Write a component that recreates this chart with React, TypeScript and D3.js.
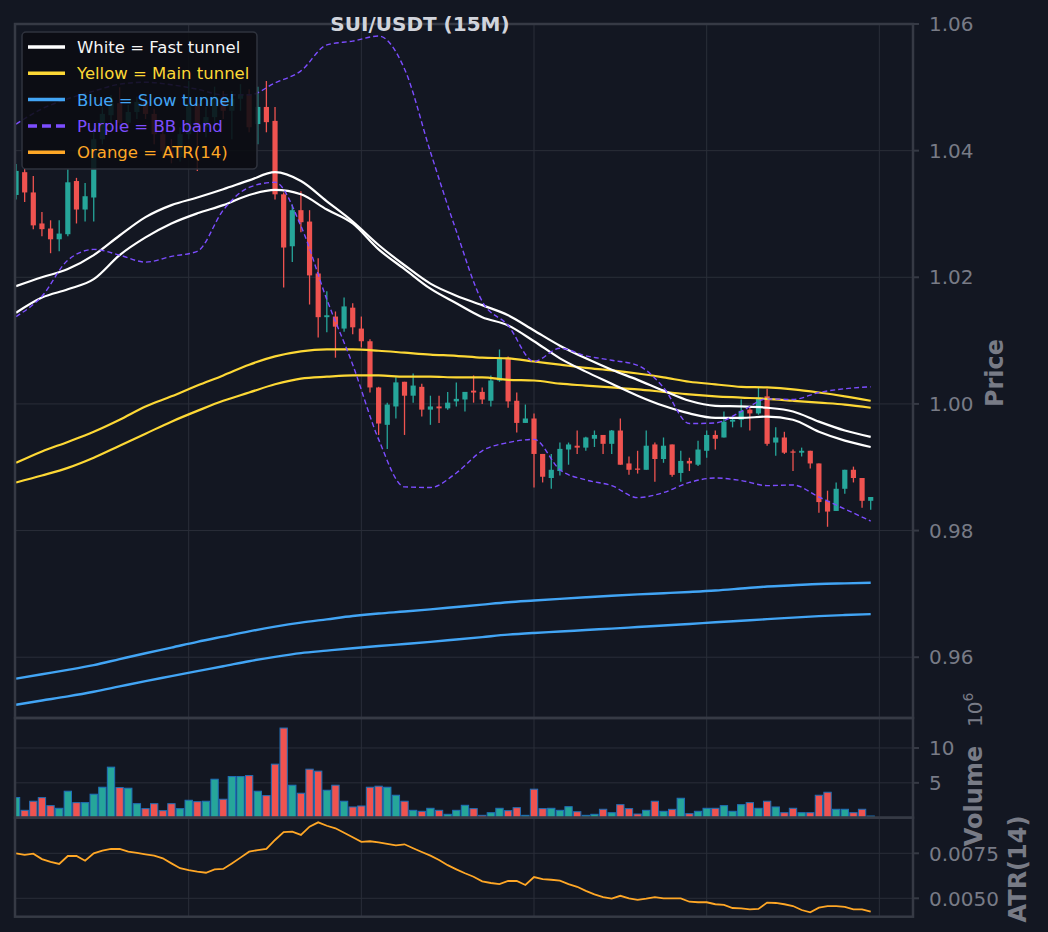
import * as d3 from 'd3'

// SUI/USDT 15m candles (100 bars)
const openP = [
  1.0330, 1.0366, 1.0334, 1.0285, 1.0277, 1.0260, 1.0268, 1.0352, 1.0307, 1.0326,
  1.0418, 1.0456, 1.0475, 1.0444, 1.0461, 1.0477, 1.0458, 1.0426, 1.0399, 1.0390,
  1.0426, 1.0474, 1.0437, 1.0453, 1.0485, 1.0463, 1.0482, 1.0489, 1.0442, 1.0469,
  1.0447, 1.0331, 1.0249, 1.0306, 1.0288, 1.0206, 1.0137, 1.0138, 1.0119, 1.0152,
  1.0119, 1.0099, 1.0026, 0.9967, 0.9996, 1.0035, 1.0013, 1.0027, 0.9991, 0.9996,
  0.9993, 1.0004, 1.0007, 1.0021, 1.0019, 1.0005, 1.0037, 1.0073, 1.0005, 0.9970,
  0.9977, 0.9921, 0.9883, 0.9894, 0.9928, 0.9934, 0.9931, 0.9945, 0.9951, 0.9937,
  0.9958, 0.9906, 0.9898, 0.9896, 0.9936, 0.9913, 0.9936, 0.9891, 0.9910, 0.9904,
  0.9926, 0.9951, 0.9947, 0.9972, 0.9975, 0.9991, 0.9985, 1.0012, 0.9939, 0.9947,
  0.9925, 0.9923, 0.9926, 0.9906, 0.9847, 0.9831, 0.9866, 0.9896, 0.9883, 0.9847,
]
const highP = [
  1.0379, 1.0371, 1.0360, 1.0303, 1.0290, 1.0290, 1.0371, 1.0357, 1.0349, 1.0434,
  1.0469, 1.0488, 1.0500, 1.0472, 1.0485, 1.0485, 1.0466, 1.0442, 1.0418, 1.0437,
  1.0510, 1.0485, 1.0469, 1.0501, 1.0494, 1.0494, 1.0505, 1.0497, 1.0501, 1.0510,
  1.0469, 1.0334, 1.0315, 1.0336, 1.0306, 1.0230, 1.0178, 1.0146, 1.0168, 1.0159,
  1.0138, 1.0102, 1.0027, 1.0002, 1.0042, 1.0035, 1.0048, 1.0032, 1.0013, 1.0013,
  1.0019, 1.0034, 1.0019, 1.0045, 1.0026, 1.0045, 1.0086, 1.0075, 1.0018, 0.9999,
  0.9985, 0.9921, 0.9921, 0.9939, 0.9939, 0.9958, 0.9948, 0.9958, 0.9951, 0.9959,
  0.9977, 0.9917, 0.9926, 0.9958, 0.9939, 0.9947, 0.9936, 0.9926, 0.9915, 0.9942,
  0.9958, 0.9958, 0.9988, 0.9980, 1.0007, 0.9994, 1.0026, 1.0024, 0.9963, 0.9956,
  0.9928, 0.9931, 0.9926, 0.9906, 0.9863, 0.9876, 0.9896, 0.9901, 0.9883, 0.9853,
]
const lowP = [
  1.0323, 1.0319, 1.0276, 1.0265, 1.0238, 1.0241, 1.0265, 1.0285, 1.0288, 1.0288,
  1.0410, 1.0434, 1.0434, 1.0436, 1.0450, 1.0450, 1.0410, 1.0390, 1.0380, 1.0383,
  1.0418, 1.0368, 1.0421, 1.0442, 1.0450, 1.0418, 1.0463, 1.0429, 1.0410, 1.0429,
  1.0323, 1.0184, 1.0224, 1.0271, 1.0157, 1.0105, 1.0113, 1.0073, 1.0114, 1.0110,
  1.0089, 1.0018, 0.9951, 0.9929, 0.9977, 0.9951, 1.0002, 0.9980, 0.9967, 0.9970,
  0.9991, 0.9996, 0.9988, 1.0002, 1.0000, 0.9996, 1.0035, 0.9994, 0.9955, 0.9970,
  0.9868, 0.9876, 0.9866, 0.9887, 0.9904, 0.9921, 0.9926, 0.9932, 0.9921, 0.9921,
  0.9904, 0.9888, 0.9890, 0.9896, 0.9877, 0.9907, 0.9885, 0.9877, 0.9894, 0.9902,
  0.9915, 0.9928, 0.9947, 0.9963, 0.9963, 0.9958, 0.9983, 0.9934, 0.9918, 0.9921,
  0.9894, 0.9917, 0.9898, 0.9828, 0.9806, 0.9831, 0.9858, 0.9876, 0.9836, 0.9833,
]
const closeP = [
  1.0368, 1.0334, 1.0282, 1.0276, 1.0260, 1.0269, 1.0350, 1.0307, 1.0328, 1.0418,
  1.0458, 1.0475, 1.0444, 1.0461, 1.0477, 1.0458, 1.0426, 1.0399, 1.0390, 1.0426,
  1.0474, 1.0437, 1.0453, 1.0485, 1.0463, 1.0482, 1.0489, 1.0437, 1.0469, 1.0445,
  1.0331, 1.0247, 1.0306, 1.0287, 1.0203, 1.0137, 1.0140, 1.0122, 1.0154, 1.0121,
  1.0099, 1.0026, 0.9969, 0.9999, 1.0034, 1.0013, 1.0029, 0.9991, 0.9996, 0.9993,
  1.0002, 1.0008, 1.0019, 1.0018, 1.0007, 1.0037, 1.0073, 1.0004, 0.9970, 0.9977,
  0.9921, 0.9885, 0.9896, 0.9929, 0.9936, 0.9931, 0.9947, 0.9951, 0.9937, 0.9958,
  0.9904, 0.9896, 0.9896, 0.9934, 0.9913, 0.9934, 0.9888, 0.9910, 0.9906, 0.9928,
  0.9951, 0.9945, 0.9972, 0.9975, 0.9989, 0.9985, 1.0010, 0.9937, 0.9947, 0.9923,
  0.9923, 0.9926, 0.9906, 0.9845, 0.9830, 0.9866, 0.9896, 0.9883, 0.9847, 0.9853,
]
// volume in millions
const volumeM = [
  2.9, 1.06, 2.36, 2.88, 1.73, 1.35, 3.8, 2.16, 2.16, 3.37,
  4.37, 7.25, 4.32, 4.23, 2.01, 1.3, 2.01, 1.01, 2.01, 1.3,
  2.5, 2.3, 2.36, 5.52, 2.65, 5.9, 5.9, 6.04, 3.8, 3.17,
  7.68, 12.86, 4.66, 3.51, 6.96, 6.68, 3.94, 4.66, 2.36, 1.54,
  1.68, 4.37, 4.52, 4.37, 3.22, 2.36, 1.06, 0.92, 1.35, 1.06,
  0.49, 1.06, 1.78, 1.3, 0.34, 0.72, 1.35, 1.01, 1.44, 0.34,
  4.09, 1.3, 1.35, 1.06, 1.58, 0.86, 0.34, 0.49, 1.21, 0.72,
  1.87, 1.3, 0.53, 1.06, 2.36, 0.92, 1.2, 2.79, 0.58, 0.92,
  1.35, 1.35, 1.73, 0.92, 1.87, 2.16, 1.35, 2.36, 1.54, 0.72,
  1.35, 0.72, 0.72, 3.22, 3.65, 1.21, 1.21, 0.72, 1.21, 0.24,
]
const atr14 = [
  0.00750, 0.00741, 0.00748, 0.00718, 0.00703, 0.00691, 0.00735, 0.00735, 0.00709, 0.00750,
  0.00765, 0.00774, 0.00774, 0.00759, 0.00752, 0.00744, 0.00737, 0.00722, 0.00694, 0.00667,
  0.00656, 0.00648, 0.00642, 0.00661, 0.00663, 0.00694, 0.00726, 0.00759, 0.00768, 0.00774,
  0.00824, 0.00868, 0.00870, 0.00852, 0.00898, 0.00922, 0.00903, 0.00889, 0.00864, 0.00839,
  0.00814, 0.00817, 0.00811, 0.00802, 0.00794, 0.00800, 0.00778, 0.00757, 0.00737, 0.00713,
  0.00684, 0.00661, 0.00639, 0.00620, 0.00594, 0.00585, 0.00579, 0.00596, 0.00596, 0.00574,
  0.00618, 0.00606, 0.00603, 0.00598, 0.00579, 0.00564, 0.00541, 0.00522, 0.00507, 0.00498,
  0.00514, 0.00500, 0.00491, 0.00498, 0.00507, 0.00500, 0.00500, 0.00500, 0.00481, 0.00478,
  0.00478, 0.00467, 0.00463, 0.00446, 0.00444, 0.00439, 0.00441, 0.00476, 0.00474, 0.00467,
  0.00457, 0.00435, 0.00422, 0.00448, 0.00457, 0.00457, 0.00452, 0.00439, 0.00439, 0.00426,
]

// tunnels and bands, read every 3rd candle (0, 3, ... 99)
const lineIdx = d3.range(0, 100, 3)
const fastUpper = [
  1.0186, 1.0200, 1.0213, 1.0235, 1.0266, 1.0295, 1.0314, 1.0326, 1.0339, 1.0353,
  1.0366, 1.0352, 1.0320, 1.0288, 1.0251, 1.0219, 1.0190, 1.0171, 1.0156, 1.0140,
  1.0116, 1.0092, 1.0072, 1.0054, 1.0038, 1.0021, 1.0005, 0.9997, 0.9996, 0.9994,
  0.9988, 0.9972, 0.9958, 0.9948,
]
const fastLower = [
  1.0144, 1.0168, 1.0181, 1.0197, 1.0235, 1.0263, 1.0285, 1.0301, 1.0314, 1.0330,
  1.0338, 1.0331, 1.0307, 1.0285, 1.0244, 1.0213, 1.0182, 1.0159, 1.0137, 1.0124,
  1.0099, 1.0072, 1.0051, 1.0032, 1.0013, 0.9997, 0.9985, 0.9978, 0.9978, 0.9980,
  0.9975, 0.9956, 0.9942, 0.9932,
]
const mainUpper = [
  0.9907, 0.9925, 0.9940, 0.9956, 0.9975, 0.9996, 1.0012, 1.0029, 1.0045, 1.0062,
  1.0075, 1.0083, 1.0086, 1.0086, 1.0084, 1.0081, 1.0078, 1.0076, 1.0073, 1.0072,
  1.0067, 1.0062, 1.0057, 1.0053, 1.0048, 1.0042, 1.0035, 1.0031, 1.0027, 1.0026,
  1.0023, 1.0018, 1.0012, 1.0005,
]
const mainLower = [
  0.9876, 0.9887, 0.9899, 0.9915, 0.9934, 0.9953, 0.9972, 0.9989, 1.0005, 1.0018,
  1.0031, 1.0040, 1.0043, 1.0045, 1.0045, 1.0043, 1.0043, 1.0042, 1.0042, 1.0038,
  1.0037, 1.0032, 1.0029, 1.0026, 1.0023, 1.0019, 1.0015, 1.0012, 1.0010, 1.0008,
  1.0005, 1.0002, 0.9999, 0.9994,
]
const slowUpper = [
  0.95661, 0.95731, 0.95800, 0.95876, 0.95970, 0.96063, 0.96152, 0.96243, 0.96326, 0.96408,
  0.96482, 0.96546, 0.96598, 0.96650, 0.96690, 0.96721, 0.96755, 0.96793, 0.96831, 0.96868,
  0.96895, 0.96921, 0.96946, 0.96970, 0.96992, 0.97011, 0.97031, 0.97054, 0.97085, 0.97117,
  0.97136, 0.97156, 0.97166, 0.97175,
]
const slowLower = [
  0.95250, 0.95316, 0.95381, 0.95454, 0.95539, 0.95623, 0.95701, 0.95780, 0.95857, 0.95937,
  0.96006, 0.96065, 0.96104, 0.96142, 0.96177, 0.96209, 0.96242, 0.96280, 0.96318, 0.96356,
  0.96383, 0.96405, 0.96429, 0.96452, 0.96476, 0.96500, 0.96525, 0.96551, 0.96576, 0.96601,
  0.96625, 0.96649, 0.96666, 0.96680,
]
const bbUpper = [
  1.0442, 1.0466, 1.0482, 1.0494, 1.0505, 1.0508, 1.0504, 1.0497, 1.0488, 1.0488,
  1.0507, 1.0526, 1.0567, 1.0573, 1.0581, 1.0529, 1.0398, 1.0273, 1.0162, 1.0124,
  1.0067, 1.0088, 1.0076, 1.0069, 1.0061, 1.0026, 0.9969, 0.9970, 0.9988, 1.0008,
  1.0007, 1.0018, 1.0024, 1.0027,
]
const bbLower = [
  1.0138, 1.0170, 1.0227, 1.0244, 1.0235, 1.0224, 1.0233, 1.0241, 1.0306, 1.0342,
  1.0350, 1.0281, 1.0165, 1.0062, 0.9944, 0.9869, 0.9868, 0.9891, 0.9926, 0.9939,
  0.9944, 0.9896, 0.9880, 0.9871, 0.9852, 0.9860, 0.9876, 0.9883, 0.9879, 0.9871,
  0.9872, 0.9853, 0.9834, 0.9815,
]

const priceTicks = [0.96, 0.98, 1.0, 1.02, 1.04, 1.06]
const volTicks = [5, 10]
const atrTicks = [0.005, 0.0075]
const timeGrid = [20, 40, 60, 80, 100]

const legendItems = [
  { label: 'White = Fast tunnel', color: '#ffffff', text: '#f5f5f5', dashed: false },
  { label: 'Yellow = Main tunnel', color: '#fdd835', text: '#fdd835', dashed: false },
  { label: 'Blue = Slow tunnel', color: '#42a5f5', text: '#42a5f5', dashed: false },
  { label: 'Purple = BB band', color: '#7c4dff', text: '#7c4dff', dashed: true },
  { label: 'Orange = ATR(14)', color: '#ffa726', text: '#ffa726', dashed: false },
]

const BG = '#131722'
const GRID = '#2a2e39'
const SPINE = '#363a45'
const LABEL = '#787b86'
const UP = '#26a69a'
const DOWN = '#ef5350'
const FONT = 'DejaVu Sans, sans-serif'

export default function App() {
  const W = 1048
  const H = 932
  const left = 15
  const right = 913
  const pTop = 24, pBot = 718
  const vTop = 718, vBot = 817.7
  const aTop = 817.7, aBot = 916.7

  const x = d3.scaleLinear().domain([-0.12, 103.9]).range([left, right])
  const yP = d3.scaleLinear().domain([0.9504, 1.06]).range([pBot, pTop])
  const yV = d3.scaleLinear().domain([0, 14.3]).range([vBot, vTop])
  const yA = d3.scaleLinear().domain([0.003978, 0.009478]).range([aBot, aTop])
  const step = x(1) - x(0)

  const tunnel = (vals: number[]) =>
    d3.line<number>()
      .x((_, k) => x(lineIdx[k]))
      .y(v => yP(v))
      .curve(d3.curveMonotoneX)(vals) || ''

  const atrPath = d3.line<number>()
    .x((_, i) => x(i))
    .y(v => yA(v))(atr14) || ''

  const bodyW = step * 0.6
  const barW = step * 0.85

  const panels = [
    { top: pTop, bot: pBot },
    { top: vTop, bot: vBot },
    { top: aTop, bot: aBot },
  ]

  const tickLabel = (y: number, txt: string, key: string) => (
    <g key={key}>
      <line x1={right} x2={right + 6} y1={y} y2={y} stroke={SPINE} strokeWidth={2} />
      <text x={929} y={y} dy="0.36em" fill={LABEL} fontSize={20} fontFamily={FONT}>{txt}</text>
    </g>
  )

  return (
    <svg width={W} height={H} style={{ position: 'fixed', left: 0, top: 0, display: 'block' }}>
      <defs>
        <clipPath id="pclip"><rect x={left} y={pTop} width={right - left} height={pBot - pTop} /></clipPath>
        <clipPath id="vclip"><rect x={left} y={vTop} width={right - left} height={vBot - vTop} /></clipPath>
        <clipPath id="aclip"><rect x={left} y={aTop} width={right - left} height={aBot - aTop} /></clipPath>
      </defs>
      <rect width={W} height={H} fill={BG} />

      {/* grid */}
      {panels.map((p, k) => timeGrid.map(t => (
        <line key={`vg${k}-${t}`} x1={x(t)} x2={x(t)} y1={p.top} y2={p.bot} stroke={GRID} strokeWidth={1} />
      )))}
      {priceTicks.map(t => (
        <line key={`pg${t}`} x1={left} x2={right} y1={yP(t)} y2={yP(t)} stroke={GRID} strokeWidth={1} />
      ))}
      {volTicks.map(t => (
        <line key={`vgh${t}`} x1={left} x2={right} y1={yV(t)} y2={yV(t)} stroke={GRID} strokeWidth={1} />
      ))}
      {atrTicks.map(t => (
        <line key={`ag${t}`} x1={left} x2={right} y1={yA(t)} y2={yA(t)} stroke={GRID} strokeWidth={1} />
      ))}

      {/* price panel */}
      <g clipPath="url(#pclip)">
        {openP.map((o, i) => {
          const c = closeP[i]
          const col = c >= o ? UP : DOWN
          const cx = x(i)
          const yTop = yP(Math.max(o, c))
          const yBot = yP(Math.min(o, c))
          return (
            <g key={`c${i}`}>
              <line x1={cx} x2={cx} y1={yP(highP[i])} y2={yP(lowP[i])} stroke={col} strokeWidth={1.3} />
              <rect x={cx - bodyW / 2} y={yTop} width={bodyW} height={Math.max(1, yBot - yTop)} fill={col} />
            </g>
          )
        })}
        <path d={tunnel(slowUpper)} fill="none" stroke="#42a5f5" strokeWidth={2.4} />
        <path d={tunnel(slowLower)} fill="none" stroke="#42a5f5" strokeWidth={2.4} />
        <path d={tunnel(mainUpper)} fill="none" stroke="#fdd835" strokeWidth={2.2} />
        <path d={tunnel(mainLower)} fill="none" stroke="#fdd835" strokeWidth={2.2} />
        <path d={tunnel(fastUpper)} fill="none" stroke="#ffffff" strokeWidth={2.2} />
        <path d={tunnel(fastLower)} fill="none" stroke="#ffffff" strokeWidth={2.2} />
        <path d={tunnel(bbUpper)} fill="none" stroke="#7c4dff" strokeWidth={1.4} strokeDasharray="5 3" />
        <path d={tunnel(bbLower)} fill="none" stroke="#7c4dff" strokeWidth={1.4} strokeDasharray="5 3" />
      </g>

      {/* volume panel */}
      <g clipPath="url(#vclip)">
        {volumeM.map((v, i) => (
          <rect
            key={`v${i}`}
            x={x(i) - barW / 2}
            y={yV(v)}
            width={barW}
            height={yV(0) - yV(v)}
            fill={closeP[i] >= openP[i] ? UP : DOWN}
            stroke="#1f6fb8"
            strokeWidth={1}
          />
        ))}
      </g>

      {/* ATR panel */}
      <g clipPath="url(#aclip)">
        <path d={atrPath} fill="none" stroke="#ffa726" strokeWidth={1.8} />
      </g>

      {/* spines */}
      {panels.map((p, k) => (
        <rect key={`sp${k}`} x={left} y={p.top} width={right - left} height={p.bot - p.top}
          fill="none" stroke={SPINE} strokeWidth={2.5} />
      ))}

      {/* right-side ticks */}
      {priceTicks.map(t => tickLabel(yP(t), d3.format('.2f')(t), `pt${t}`))}
      {volTicks.map(t => tickLabel(yV(t), String(t), `vt${t}`))}
      {atrTicks.map(t => tickLabel(yA(t), d3.format('.4f')(t), `at${t}`))}

      {/* axis labels */}
      <text transform="translate(995,373) rotate(-90)" textAnchor="middle" dominantBaseline="central"
        fill={LABEL} fontSize={24} fontWeight="bold" fontFamily={FONT}>Price</text>
      <text transform="translate(974,796) rotate(-90)" textAnchor="middle" dominantBaseline="central"
        fill={LABEL} fontSize={24} fontWeight="bold" fontFamily={FONT}>Volume</text>
      <text transform="translate(1018,869) rotate(-90)" textAnchor="middle" dominantBaseline="central"
        fill={LABEL} fontSize={24} fontWeight="bold" fontFamily={FONT}>ATR(14)</text>
      <text transform="translate(982,727) rotate(-90)" fill={LABEL} fontSize={20} fontFamily={FONT}>
        10<tspan dy={-9} fontSize={14}>6</tspan>
      </text>

      {/* title */}
      <text x={420} y={24} dy="0.35em" textAnchor="middle" fill="#d1d4dc" fontSize={20}
        fontWeight="bold" fontFamily={FONT}>SUI/USDT (15M)</text>

      {/* legend */}
      <g>
        <rect x={22} y={32} width={235} height={137} rx={4} fill="#0b0d12" fillOpacity={0.88}
          stroke="#2f333e" strokeWidth={1.5} />
        {legendItems.map((d, k) => {
          const ly = 47 + k * 26.3
          return (
            <g key={d.label}>
              <line x1={28} x2={65} y1={ly} y2={ly} stroke={d.color} strokeWidth={3.5}
                strokeDasharray={d.dashed ? '9 5' : undefined} />
              <text x={77} y={ly} dy="0.36em" fill={d.text} fontSize={16.5} fontFamily={FONT}>{d.label}</text>
            </g>
          )
        })}
      </g>
    </svg>
  )
}
